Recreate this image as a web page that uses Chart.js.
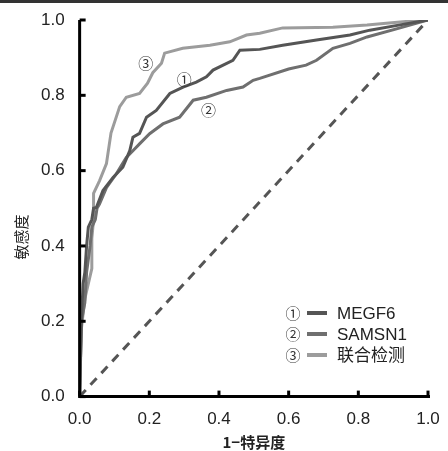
<!DOCTYPE html>
<html>
<head>
<meta charset="utf-8">
<script src="https://cdn.jsdelivr.net/npm/chart.js@4"></script>
<style>
  html, body { margin: 0; padding: 0; background: #fff; }
  #wrap { width: 448px; height: 451px; position: relative; }
</style>
</head>
<body>
<div id="wrap"><canvas id="canvas" width="448" height="451"></canvas></div>
<script>
const canvas = document.getElementById("canvas");

// ROC points (1-specificity, sensitivity)
const fprMEGF6 = [0, 0.005, 0.01, 0.015, 0.02, 0.025, 0.035, 0.04, 0.048, 0.067, 0.096, 0.124, 0.144, 0.153, 0.172, 0.192, 0.22, 0.259, 0.297, 0.335, 0.364, 0.383, 0.44, 0.46, 0.517, 0.583, 0.68, 0.776, 0.833, 0.92, 1];
const tprMEGF6 = [0, 0.2, 0.3, 0.33, 0.4, 0.45, 0.47, 0.5, 0.502, 0.547, 0.582, 0.609, 0.653, 0.689, 0.699, 0.742, 0.76, 0.805, 0.822, 0.835, 0.849, 0.867, 0.893, 0.92, 0.922, 0.933, 0.947, 0.96, 0.973, 0.987, 1];

const fprSAMSN1 = [0, 0.005, 0.015, 0.02, 0.03, 0.035, 0.045, 0.05, 0.057, 0.077, 0.105, 0.134, 0.153, 0.172, 0.201, 0.239, 0.287, 0.326, 0.364, 0.422, 0.469, 0.498, 0.517, 0.6, 0.65, 0.68, 0.727, 0.776, 0.825, 0.92, 1];
const tprSAMSN1 = [0, 0.2, 0.25, 0.33, 0.4, 0.45, 0.47, 0.5, 0.511, 0.555, 0.591, 0.635, 0.653, 0.671, 0.698, 0.724, 0.742, 0.787, 0.795, 0.813, 0.822, 0.84, 0.845, 0.87, 0.88, 0.893, 0.925, 0.938, 0.955, 0.979, 1];

const fprCombined = [0, 0.005, 0.015, 0.025, 0.035, 0.035, 0.04, 0.04, 0.057, 0.077, 0.09, 0.115, 0.134, 0.172, 0.195, 0.21, 0.235, 0.244, 0.296, 0.374, 0.431, 0.479, 0.517, 0.583, 0.727, 0.825, 0.92, 1];
const tprCombined = [0, 0.18, 0.26, 0.3, 0.34, 0.42, 0.47, 0.54, 0.573, 0.619, 0.7, 0.77, 0.795, 0.805, 0.832, 0.86, 0.885, 0.912, 0.925, 0.933, 0.942, 0.96, 0.965, 0.979, 0.981, 0.987, 0.995, 1];

const seriesNames = ["MEGF6", "SAMSN1", "联合检测"];
const seriesMarks = ["①", "②", "③"];
const seriesColors = ["#555555", "#6f6f6f", "#9c9c9c"];
const tickValues = [0, 0.2, 0.4, 0.6, 0.8, 1.0];

// curve callouts: [mark, x, y] in data units
const callouts = [["③", 0.19, 0.885], ["①", 0.3, 0.842], ["②", 0.37, 0.76]];

function toPoints(xs, ys) {
  return xs.map((x, i) => ({ x: x, y: ys[i] }));
}

const tickFont = { family: "'Liberation Sans', Arial, sans-serif", size: 17 };
const markFont = "15px 'Noto Sans CJK SC', 'DejaVu Sans', sans-serif";

const decorPlugin = {
  id: "decor",
  afterDraw(chart) {
    const ctx = chart.ctx;
    const area = chart.chartArea;
    const xs = chart.scales.x;
    const ys = chart.scales.y;
    ctx.save();

    // strip along the top edge
    ctx.fillStyle = "#333";
    ctx.fillRect(0, 0, 448, 3);

    // axes
    ctx.strokeStyle = "#000";
    ctx.lineWidth = 3;
    ctx.beginPath();
    ctx.moveTo(area.left, area.top);
    ctx.lineTo(area.left, area.bottom);
    ctx.lineTo(area.right + 2, area.bottom);
    ctx.stroke();

    // inward tick marks
    tickValues.forEach(v => {
      const py = ys.getPixelForValue(v);
      ctx.beginPath();
      ctx.moveTo(area.left, py);
      ctx.lineTo(area.left + 6, py);
      ctx.stroke();
      const px = xs.getPixelForValue(v);
      ctx.beginPath();
      ctx.moveTo(px, area.bottom);
      ctx.lineTo(px, area.bottom - 6);
      ctx.stroke();
    });

    // axis titles
    ctx.fillStyle = "#222";
    ctx.textAlign = "center";
    ctx.textBaseline = "middle";
    ctx.font = "bold 15px 'Noto Sans CJK SC', sans-serif";
    ctx.fillText("1\u2212特异度", (area.left + area.right) / 2, 442);
    ctx.save();
    ctx.translate(21, 237);
    ctx.rotate(-Math.PI / 2);
    ctx.font = "15px 'Noto Sans CJK SC', sans-serif";
    ctx.fillText("敏感度", 0, 0);
    ctx.restore();

    // callouts on the curves
    ctx.font = markFont;
    ctx.fillStyle = "#333";
    callouts.forEach(([mark, x, y]) => {
      ctx.fillText(mark, xs.getPixelForValue(x), ys.getPixelForValue(y));
    });

    // legend
    seriesNames.forEach((name, i) => {
      const rowY = 313 + i * 21;
      ctx.font = markFont;
      ctx.fillStyle = "#333";
      ctx.textAlign = "center";
      ctx.fillText(seriesMarks[i], 293, rowY);
      ctx.strokeStyle = seriesColors[i];
      ctx.lineWidth = 4;
      ctx.beginPath();
      ctx.moveTo(307, rowY);
      ctx.lineTo(327, rowY);
      ctx.stroke();
      ctx.textAlign = "left";
      ctx.fillStyle = "#222";
      ctx.font = "17px 'Liberation Sans', 'Noto Sans CJK SC', sans-serif";
      ctx.fillText(name, 337, rowY + 1);
    });

    ctx.restore();
  }
};

const datasets = [
  toPoints(fprMEGF6, tprMEGF6),
  toPoints(fprSAMSN1, tprSAMSN1),
  toPoints(fprCombined, tprCombined)
].map((pts, i) => ({
  label: seriesNames[i],
  data: pts,
  borderColor: seriesColors[i],
  borderWidth: 3,
  pointRadius: 0,
  tension: 0,
  fill: false
}));

datasets.unshift({
  label: "reference",
  data: [{ x: 0, y: 0 }, { x: 1, y: 1 }],
  borderColor: "#555555",
  borderWidth: 3,
  borderDash: [9, 7],
  pointRadius: 0,
  fill: false
});

new Chart(canvas, {
  type: "line",
  data: { datasets: datasets },
  plugins: [decorPlugin],
  options: {
    responsive: false,
    animation: false,
    layout: { padding: { left: 26, right: 20, top: 20, bottom: 8 } },
    plugins: { legend: { display: false }, tooltip: { enabled: false } },
    scales: {
      x: {
        type: "linear",
        min: 0,
        max: 1,
        afterBuildTicks: axis => { axis.ticks = tickValues.map(v => ({ value: v })); },
        afterFit: axis => { axis.paddingLeft = 0; axis.paddingRight = 0; },
        ticks: { padding: 13, color: "#222", font: tickFont, callback: v => v.toFixed(1) },
        grid: { display: false, drawTicks: false },
        border: { display: false }
      },
      y: {
        type: "linear",
        min: 0,
        max: 1,
        afterBuildTicks: axis => { axis.ticks = tickValues.map(v => ({ value: v })); },
        afterFit: axis => { axis.paddingTop = 0; axis.paddingBottom = 0; },
        ticks: { padding: 15, color: "#222", font: tickFont, callback: v => v.toFixed(1) },
        grid: { display: false, drawTicks: false },
        border: { display: false }
      }
    }
  }
});
</script>
</body>
</html>
